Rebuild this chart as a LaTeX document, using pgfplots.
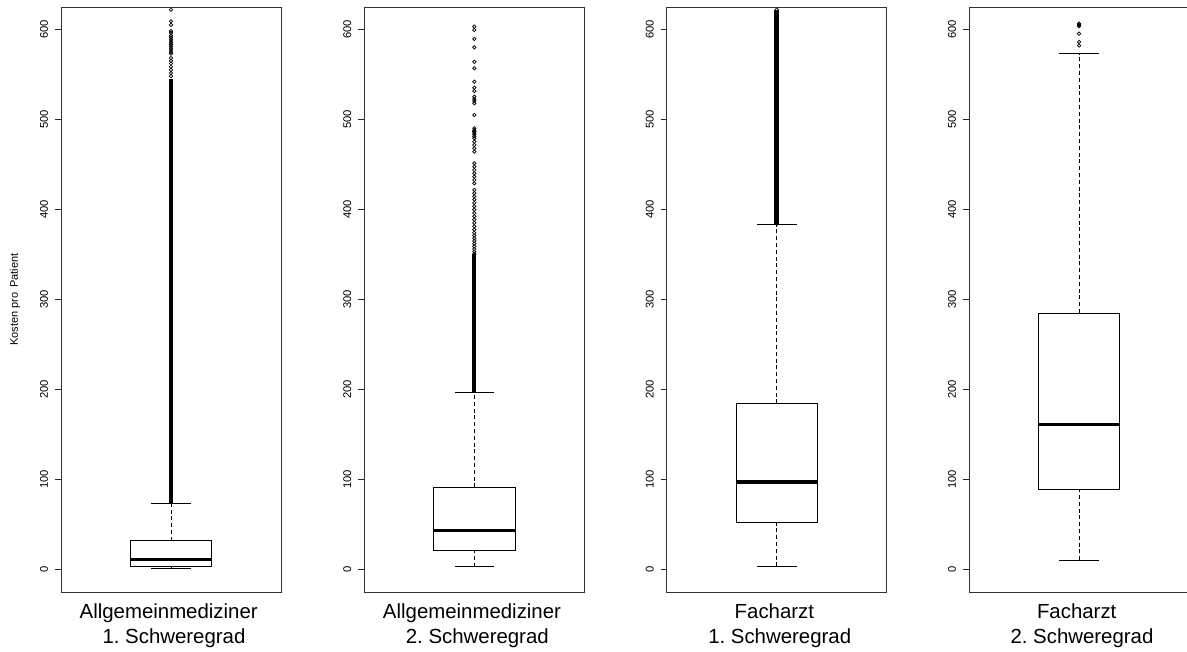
\documentclass[border=0pt]{standalone}
\usepackage{fontspec}
\setmainfont{Liberation Sans}
\usepackage{pgfplots}
\usepackage{pgfplotstable}
\pgfplotsset{compat=1.18}
\frenchspacing

% Sparse outliers (the dense runs are drawn as bands below)
\pgfplotstableread{
x y
0.5 548
0.5 551.5
0.5 555
0.5 558.5
0.5 562
0.5 565
0.5 568
0.5 573
0.5 575
0.5 577
0.5 579
0.5 581
0.5 583
0.5 585
0.5 587
0.5 589
0.5 591
0.5 593
0.5 596
0.5 598
0.5 605
0.5 609
0.5 621.8
}\outAone

\pgfplotstableread{
x y
0.5 350.5
0.5 353
0.5 356
0.5 359
0.5 362
0.5 365
0.5 368
0.5 371
0.5 374
0.5 377.6
0.5 381.3
0.5 385
0.5 388.7
0.5 392.4
0.5 396
0.5 399.8
0.5 403.5
0.5 407.2
0.5 411
0.5 414.6
0.5 418
0.5 421.6
0.5 429
0.5 432.7
0.5 436.4
0.5 440.1
0.5 443.8
0.5 447.5
0.5 451.2
0.5 464.1
0.5 467.9
0.5 471.6
0.5 475.2
0.5 479
0.5 481
0.5 483
0.5 485
0.5 486.4
0.5 488
0.5 490.1
0.5 504.9
0.5 517.9
0.5 520.4
0.5 522.6
0.5 525.2
0.5 531.5
0.5 535.2
0.5 541.9
0.5 556.7
0.5 564
0.5 580
0.5 589.3
0.5 599.3
0.5 603
}\outAtwo

\pgfplotstableread{
x y
0.5 384
0.5 622
}\outFone

\pgfplotstableread{
x y
0.5 582
0.5 586
0.5 595.2
0.5 603.5
0.5 604.5
0.5 605.5
0.5 606.5
}\outFtwo

\pgfplotsset{
  kostenbox/.style={
    scale only axis, width=110pt, height=292.5pt,
    anchor=south west,
    xmin=0, xmax=1, ymin=-24.8, ymax=624.8,
    xtick=\empty,
    ytick={0,100,...,600},
    ytick pos=left,
    tick align=outside,
    major tick length=3pt,
    every tick/.style={black!85, line width=0.45pt},
    axis line style={black!80, line width=0.45pt},
    /pgf/number format/assume math mode=true,
    yticklabel style={font=\fontsize{5.6}{6}\selectfont, rotate=90, anchor=south},
    xlabel style={at={(axis description cs:0.5,0)}, anchor=north, inner sep=0pt,
      yshift=-5.6pt, align=center, font=\fontsize{10.2}{12.7}\selectfont},
  },
  boxline/.style={black, line width=0.5pt, line join=miter, no markers},
  medianline/.style={black, line width=1.6pt, no markers},
  whiskerline/.style={black, line width=0.5pt, dash pattern=on 2pt off 1.4pt, no markers},
  outlierband/.style={black, line width=#1, no markers},
  outlierband/.default=1.9pt,
  outliers/.style={only marks, mark=o, mark size=0.85pt,
    mark options={black, line width=0.35pt}},
}

% lower whisker, lower quartile, median, upper quartile, upper whisker
\newcommand{\drawbox}[5]{%
  \addplot[whiskerline] coordinates {(0.5,#1) (0.5,#2)};
  \addplot[whiskerline] coordinates {(0.5,#4) (0.5,#5)};
  \addplot[boxline] coordinates {(0.41,#1) (0.59,#1)};
  \addplot[boxline] coordinates {(0.41,#5) (0.59,#5)};
  \addplot[boxline] coordinates {(0.315,#2) (0.685,#2) (0.685,#4) (0.315,#4) (0.315,#2) (0.685,#2)};
  \addplot[medianline] coordinates {(0.315,#3) (0.685,#3)};
}

\begin{document}
\begin{tikzpicture}

\begin{axis}[kostenbox, at={(30.5pt,30pt)},
  xlabel={Allgemeinmediziner\kern2.3pt\\\kern3pt 1.\ Schweregrad},
  ylabel={Kosten pro\kern0.8pt\ Patient},
  ylabel style={at={(axis description cs:-0.209,0.5)}, anchor=center,
    font=\fontsize{5.5}{6}\selectfont}]
  \drawbox{0.8}{3.7}{11}{32}{74}
  \addplot[outlierband] coordinates {(0.5,74) (0.5,545)};
  \addplot[outliers] table[x=x, y=y] {\outAone};
\end{axis}

\begin{axis}[kostenbox, at={(182.15pt,30pt)},
  xlabel={Allgemeinmediziner\kern2.3pt\\\kern3pt 2.\ Schweregrad}]
  \drawbox{3.3}{21.8}{43.6}{91.4}{196.4}
  \addplot[outlierband] coordinates {(0.5,197) (0.5,350)};
  \addplot[outliers] table[x=x, y=y] {\outAtwo};
\end{axis}

\begin{axis}[kostenbox, at={(333.35pt,30pt)},
  xlabel={Facharzt\kern2.3pt\\\kern3pt 1.\ Schweregrad}]
  \drawbox{3.7}{52.5}{97.3}{184.6}{383}
  \addplot[outlierband=2.3pt] coordinates {(0.5,383) (0.5,622)};
  \addplot[outliers] table[x=x, y=y] {\outFone};
\end{axis}

% the last frame runs past the right edge of the page
\begin{axis}[kostenbox, at={(484.5pt,30pt)}, width=116pt, xmax=1.0545,
  xlabel style={at={(axis description cs:0.4741,0)}},
  xlabel={Facharzt\kern2.3pt\\\kern3pt 2.\ Schweregrad}]
  \drawbox{10.4}{89.1}{161.3}{285}{573.5}
  \addplot[outliers] table[x=x, y=y] {\outFtwo};
\end{axis}

\pgfresetboundingbox
\path[use as bounding box] (0,0) rectangle (593.5pt,326pt);
\end{tikzpicture}
\end{document}
